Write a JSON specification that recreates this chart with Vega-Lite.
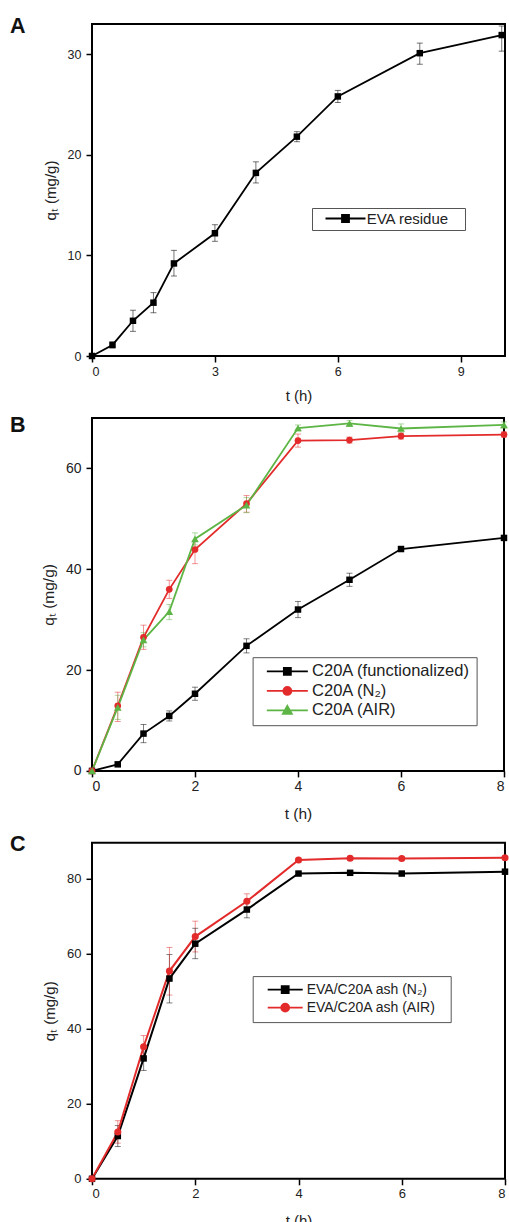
{
  "$schema": "https://vega.github.io/schema/vega-lite/v6.json",
  "padding": {"left": 9, "top": 14, "right": 0, "bottom": 0},
  "background": "white",
  "config": {
    "font": "Liberation Sans",
    "view": {"stroke": "#000", "strokeWidth": 2},
    "axis": {
      "domain": false, "grid": false,
      "tickColor": "#000", "tickWidth": 1.5, "tickSize": 6,
      "labelFont": "Liberation Sans", "labelColor": "#222", "labelPadding": 3,
      "titleFont": "Liberation Sans", "titleFontWeight": "normal", "titleColor": "#222"
    },
    "axisLeft": {"labelPadding": 5},
    "legend": {
      "orient": "none", "title": null,
      "fillColor": "white", "strokeColor": "#555", "strokeWidth": 1,
      "labelFont": "Liberation Sans", "labelColor": "#222", "labelLimit": 400,
      "symbolSize": 100
    },
    "title": {"font": "Liberation Sans", "fontSize": 21.5, "fontWeight": "bold", "color": "#111", "anchor": "start", "frame": "group", "offset": 0, "baseline": "alphabetic"}
  },
  "spacing": 8.9,
  "resolve": {"scale": {"color": "independent", "x": "independent", "y": "independent"}, "legend": {"color": "independent"}},
  "vconcat": [
    {
      "title": {"text": "A", "dx": -82, "dy": 17.3},
      "width": 413, "height": 332,
      "data": {"values": [
        {"t": 0, "q": 0, "s": "EVA residue"},
        {"t": 0.5, "q": 1.1, "lo": 0.8, "hi": 1.4, "s": "EVA residue"},
        {"t": 1, "q": 3.5, "lo": 2.45, "hi": 4.55, "s": "EVA residue"},
        {"t": 1.5, "q": 5.3, "lo": 4.3, "hi": 6.3, "s": "EVA residue"},
        {"t": 2, "q": 9.2, "lo": 7.95, "hi": 10.5, "s": "EVA residue"},
        {"t": 3, "q": 12.2, "lo": 11.4, "hi": 13.05, "s": "EVA residue"},
        {"t": 4, "q": 18.2, "lo": 17.2, "hi": 19.3, "s": "EVA residue"},
        {"t": 5, "q": 21.8, "lo": 21.3, "hi": 22.3, "s": "EVA residue"},
        {"t": 6, "q": 25.8, "lo": 25.2, "hi": 26.4, "s": "EVA residue"},
        {"t": 8, "q": 30.1, "lo": 29.0, "hi": 31.1, "s": "EVA residue"},
        {"t": 10, "q": 31.9, "lo": 30.3, "hi": 32.8, "s": "EVA residue"}
      ]},
      "encoding": {
        "x": {"field": "t", "type": "quantitative", "scale": {"domain": [0, 10.08], "nice": false},
              "axis": {"title": "t (h)", "values": [0, 3, 6, 9], "labelFontSize": 12.5, "titleFontSize": 15, "titlePadding": 11}},
        "color": {"field": "s", "type": "nominal", "scale": {"domain": ["EVA residue"], "range": ["#000000"]}}
      },
      "layer": [
        {
          "transform": [{"filter": "isValid(datum.lo)"}],
          "mark": {"type": "errorbar", "ticks": {"size": 6}, "thickness": 1, "opacity": 0.55},
          "encoding": {
            "y": {"field": "lo", "type": "quantitative", "scale": {"domain": [0, 33], "nice": false},
                  "axis": {"title": "q\u209c (mg/g)", "values": [0, 10, 20, 30], "labelFontSize": 12.5, "titleFontSize": 15, "titlePadding": 9}},
            "y2": {"field": "hi"}
          }
        },
        {
          "mark": {"type": "line", "strokeWidth": 1.8},
          "encoding": {
            "y": {"field": "q", "type": "quantitative"},
            "color": {"field": "s", "type": "nominal",
              "legend": {
                "legendX": 220, "legendY": 184, "labelFontSize": 15, "padding": 3, "labelOffset": 36.7,
                "labelExpr": "datum.label + '\u00a0\u00a0\u00a0\u200b'",
                "encode": {"symbols": {"update": {
                  "shape": {"value": "M0.6,0H8.6M3.9,-0.7H5.3V0.7H3.9Z"},
                  "fill": {"value": "#000"}, "stroke": {"value": "#000"},
                  "strokeWidth": {"value": 1.8}, "size": {"value": 100}, "opacity": {"value": 1}
                }}}
              }}
          }
        },
        {
          "mark": {"type": "point", "shape": "square", "filled": true, "size": 42, "opacity": 1},
          "encoding": {"y": {"field": "q", "type": "quantitative"}}
        }
      ]
    },
    {
      "title": {"text": "B", "dx": -82, "dy": 23},
      "width": 412, "height": 353,
      "data": {"values": [
        {"t": 0, "q": 0, "s": "C20A (functionalized)"},
        {"t": 0.5, "q": 1.3, "lo": 0.9, "hi": 1.7, "s": "C20A (functionalized)"},
        {"t": 1, "q": 7.4, "lo": 5.6, "hi": 9.2, "s": "C20A (functionalized)"},
        {"t": 1.5, "q": 10.9, "lo": 9.9, "hi": 11.9, "s": "C20A (functionalized)"},
        {"t": 2, "q": 15.3, "lo": 14.0, "hi": 16.6, "s": "C20A (functionalized)"},
        {"t": 3, "q": 24.8, "lo": 23.4, "hi": 26.2, "s": "C20A (functionalized)"},
        {"t": 4, "q": 32.0, "lo": 30.4, "hi": 33.6, "s": "C20A (functionalized)"},
        {"t": 5, "q": 37.9, "lo": 36.6, "hi": 39.2, "s": "C20A (functionalized)"},
        {"t": 6, "q": 44.0, "lo": 43.5, "hi": 44.5, "s": "C20A (functionalized)"},
        {"t": 8, "q": 46.2, "lo": 45.8, "hi": 46.6, "s": "C20A (functionalized)"},
        {"t": 0, "q": 0, "s": "C20A (N\u2082)"},
        {"t": 0.5, "q": 12.9, "lo": 9.8, "hi": 15.6, "s": "C20A (N\u2082)"},
        {"t": 1, "q": 26.5, "lo": 24.1, "hi": 28.9, "s": "C20A (N\u2082)"},
        {"t": 1.5, "q": 36.0, "lo": 34.2, "hi": 37.8, "s": "C20A (N\u2082)"},
        {"t": 2, "q": 43.9, "lo": 41.1, "hi": 45.6, "s": "C20A (N\u2082)"},
        {"t": 3, "q": 53.0, "lo": 51.3, "hi": 54.6, "s": "C20A (N\u2082)"},
        {"t": 4, "q": 65.5, "lo": 64.2, "hi": 66.8, "s": "C20A (N\u2082)"},
        {"t": 5, "q": 65.6, "lo": 65.0, "hi": 66.2, "s": "C20A (N\u2082)"},
        {"t": 6, "q": 66.4, "lo": 65.8, "hi": 67.0, "s": "C20A (N\u2082)"},
        {"t": 8, "q": 66.7, "lo": 66.2, "hi": 67.2, "s": "C20A (N\u2082)"},
        {"t": 0, "q": 0, "s": "C20A (AIR)"},
        {"t": 0.5, "q": 12.6, "lo": 10.2, "hi": 15.0, "s": "C20A (AIR)"},
        {"t": 1, "q": 26.0, "lo": 24.6, "hi": 27.4, "s": "C20A (AIR)"},
        {"t": 1.5, "q": 31.6, "lo": 30.0, "hi": 33.0, "s": "C20A (AIR)"},
        {"t": 2, "q": 46.0, "lo": 44.8, "hi": 47.2, "s": "C20A (AIR)"},
        {"t": 3, "q": 52.7, "lo": 51.2, "hi": 54.2, "s": "C20A (AIR)"},
        {"t": 4, "q": 68.0, "lo": 67.4, "hi": 68.6, "s": "C20A (AIR)"},
        {"t": 5, "q": 68.9, "lo": 68.3, "hi": 69.5, "s": "C20A (AIR)"},
        {"t": 6, "q": 67.9, "lo": 67.0, "hi": 68.8, "s": "C20A (AIR)"},
        {"t": 8, "q": 68.6, "lo": 68.0, "hi": 69.2, "s": "C20A (AIR)"}
      ]},
      "encoding": {
        "x": {"field": "t", "type": "quantitative", "scale": {"domain": [0, 8], "nice": false},
              "axis": {"title": "t (h)", "values": [0, 2, 4, 6, 8], "labelFontSize": 14, "titleFontSize": 15.5, "titlePadding": 13}},
        "y": {"field": "q", "type": "quantitative", "scale": {"domain": [0, 70], "nice": false},
              "axis": {"title": "q\u209c (mg/g)", "values": [0, 20, 40, 60], "labelFontSize": 14, "titleFontSize": 15.5, "titlePadding": 9}}
      },
      "layer": [
        {
          "transform": [{"filter": "isValid(datum.lo)"}],
          "mark": {"type": "errorbar", "ticks": {"size": 6}, "thickness": 1, "opacity": 0.5},
          "encoding": {
            "y": {"field": "lo", "type": "quantitative"},
            "y2": {"field": "hi"},
            "color": {"field": "s", "type": "nominal", "scale": {"domain": ["C20A (functionalized)", "C20A (N\u2082)", "C20A (AIR)"], "range": ["#000000", "#e32b2b", "#5db545"]}}
          }
        },
        {
          "mark": {"type": "line", "strokeWidth": 1.8},
          "encoding": {
            "color": {"field": "s", "type": "nominal",
              "scale": {"domain": ["C20A (functionalized)", "C20A (N\u2082)", "C20A (AIR)"], "range": ["#000000", "#e32b2b", "#5db545"]},
              "legend": {
                "legendX": 160.6, "legendY": 239.3, "labelFontSize": 16.5, "padding": 6, "rowPadding": 2.5, "labelOffset": 37,
                "encode": {"symbols": {"update": {
                  "shape": {"signal": "datum.value === 'C20A (functionalized)' ? 'M0,0H8.2M3.4,-0.7H4.8V0.7H3.4Z' : datum.value === 'C20A (AIR)' ? 'M0,0H8.2M4.1,-0.9L5.0,0.7H3.2Z' : 'M0,0H8.2M4.9,0C4.9,0.442,4.542,0.8,4.1,0.8C3.658,0.8,3.3,0.442,3.3,0C3.3,-0.442,3.658,-0.8,4.1,-0.8C4.542,-0.8,4.9,-0.442,4.9,0Z'"},
                  "fill": {"signal": "datum.value === 'C20A (functionalized)' ? '#000000' : datum.value === 'C20A (AIR)' ? '#5db545' : '#e32b2b'"},
                  "stroke": {"signal": "datum.value === 'C20A (functionalized)' ? '#000000' : datum.value === 'C20A (AIR)' ? '#5db545' : '#e32b2b'"},
                  "strokeWidth": {"value": 1.8}, "size": {"value": 100}, "opacity": {"value": 1}
                }}}
              }}
          }
        },
        {
          "transform": [{"filter": "datum.s === 'C20A (functionalized)'"}],
          "mark": {"type": "point", "shape": "square", "filled": true, "size": 42, "opacity": 1, "color": "#000000"}
        },
        {
          "transform": [{"filter": "datum.s === 'C20A (N\u2082)'"}],
          "mark": {"type": "point", "shape": "circle", "filled": true, "size": 45, "opacity": 1, "color": "#e32b2b"}
        },
        {
          "transform": [{"filter": "datum.s === 'C20A (AIR)'"}],
          "mark": {"type": "point", "shape": "triangle-up", "filled": true, "size": 60, "opacity": 1, "color": "#5db545"}
        }
      ]
    },
    {
      "title": {"text": "C", "dx": -82, "dy": 17},
      "width": 413, "height": 336,
      "data": {"values": [
        {"t": 0, "q": 0, "s": "EVA/C20A ash (N\u2082)"},
        {"t": 0.5, "q": 11.4, "lo": 8.6, "hi": 14.2, "s": "EVA/C20A ash (N\u2082)"},
        {"t": 1, "q": 32.1, "lo": 28.9, "hi": 35.3, "s": "EVA/C20A ash (N\u2082)"},
        {"t": 1.5, "q": 53.4, "lo": 46.9, "hi": 59.8, "s": "EVA/C20A ash (N\u2082)"},
        {"t": 2, "q": 62.7, "lo": 58.7, "hi": 66.8, "s": "EVA/C20A ash (N\u2082)"},
        {"t": 3, "q": 71.8, "lo": 69.6, "hi": 74.0, "s": "EVA/C20A ash (N\u2082)"},
        {"t": 4, "q": 81.4, "lo": 81.0, "hi": 81.8, "s": "EVA/C20A ash (N\u2082)"},
        {"t": 5, "q": 81.6, "lo": 81.2, "hi": 82.0, "s": "EVA/C20A ash (N\u2082)"},
        {"t": 6, "q": 81.4, "lo": 81.0, "hi": 81.8, "s": "EVA/C20A ash (N\u2082)"},
        {"t": 8, "q": 81.9, "lo": 81.5, "hi": 82.3, "s": "EVA/C20A ash (N\u2082)"},
        {"t": 0, "q": 0, "s": "EVA/C20A ash (AIR)"},
        {"t": 0.5, "q": 12.5, "lo": 9.5, "hi": 15.5, "s": "EVA/C20A ash (AIR)"},
        {"t": 1, "q": 35.2, "lo": 32.2, "hi": 38.2, "s": "EVA/C20A ash (AIR)"},
        {"t": 1.5, "q": 55.4, "lo": 49.0, "hi": 61.7, "s": "EVA/C20A ash (AIR)"},
        {"t": 2, "q": 64.6, "lo": 60.5, "hi": 68.7, "s": "EVA/C20A ash (AIR)"},
        {"t": 3, "q": 74.0, "lo": 72.0, "hi": 76.0, "s": "EVA/C20A ash (AIR)"},
        {"t": 4, "q": 85.0, "lo": 84.5, "hi": 85.5, "s": "EVA/C20A ash (AIR)"},
        {"t": 5, "q": 85.5, "lo": 85.0, "hi": 86.0, "s": "EVA/C20A ash (AIR)"},
        {"t": 6, "q": 85.4, "lo": 84.9, "hi": 85.9, "s": "EVA/C20A ash (AIR)"},
        {"t": 8, "q": 85.6, "lo": 85.2, "hi": 86.0, "s": "EVA/C20A ash (AIR)"}
      ]},
      "encoding": {
        "x": {"field": "t", "type": "quantitative", "scale": {"domain": [0, 8], "nice": false},
              "axis": {"title": "t (h)", "values": [0, 2, 4, 6, 8], "labelFontSize": 13, "titleFontSize": 15, "titlePadding": 13}},
        "y": {"field": "q", "type": "quantitative", "scale": {"domain": [0, 89.6], "nice": false},
              "axis": {"title": "q\u209c (mg/g)", "values": [0, 20, 40, 60, 80], "labelFontSize": 13, "titleFontSize": 15, "titlePadding": 9}}
      },
      "layer": [
        {
          "transform": [{"filter": "isValid(datum.lo)"}],
          "mark": {"type": "errorbar", "ticks": {"size": 6}, "thickness": 1, "opacity": 0.5},
          "encoding": {
            "y": {"field": "lo", "type": "quantitative"},
            "y2": {"field": "hi"},
            "color": {"field": "s", "type": "nominal", "scale": {"domain": ["EVA/C20A ash (N\u2082)", "EVA/C20A ash (AIR)"], "range": ["#000000", "#e32b2b"]}}
          }
        },
        {
          "mark": {"type": "line", "strokeWidth": 2},
          "encoding": {
            "color": {"field": "s", "type": "nominal",
              "scale": {"domain": ["EVA/C20A ash (N\u2082)", "EVA/C20A ash (AIR)"], "range": ["#000000", "#e32b2b"]},
              "legend": {
                "legendX": 160.7, "legendY": 133.3, "labelFontSize": 14, "padding": 6.5, "rowPadding": 2, "labelOffset": 33.5,
                "labelExpr": "datum.label + '\u00a0\u00a0\u200b'",
                "encode": {"symbols": {"update": {
                  "shape": {"signal": "datum.value === 'EVA/C20A ash (AIR)' ? 'M0.3,0H7.3M4.6,0C4.6,0.442,4.242,0.8,3.8,0.8C3.358,0.8,3,0.442,3,0C3,-0.442,3.358,-0.8,3.8,-0.8C4.242,-0.8,4.6,-0.442,4.6,0Z' : 'M0.3,0H7.3M3.1,-0.7H4.5V0.7H3.1Z'"},
                  "fill": {"signal": "datum.value === 'EVA/C20A ash (AIR)' ? '#e32b2b' : '#000000'"},
                  "stroke": {"signal": "datum.value === 'EVA/C20A ash (AIR)' ? '#e32b2b' : '#000000'"},
                  "strokeWidth": {"value": 1.8}, "size": {"value": 100}, "opacity": {"value": 1}
                }}}
              }}
          }
        },
        {
          "transform": [{"filter": "datum.s === 'EVA/C20A ash (N\u2082)'"}],
          "mark": {"type": "point", "shape": "square", "filled": true, "size": 42, "opacity": 1, "color": "#000000"}
        },
        {
          "transform": [{"filter": "datum.s === 'EVA/C20A ash (AIR)'"}],
          "mark": {"type": "point", "shape": "circle", "filled": true, "size": 50, "opacity": 1, "color": "#e32b2b"}
        }
      ]
    }
  ]
}
